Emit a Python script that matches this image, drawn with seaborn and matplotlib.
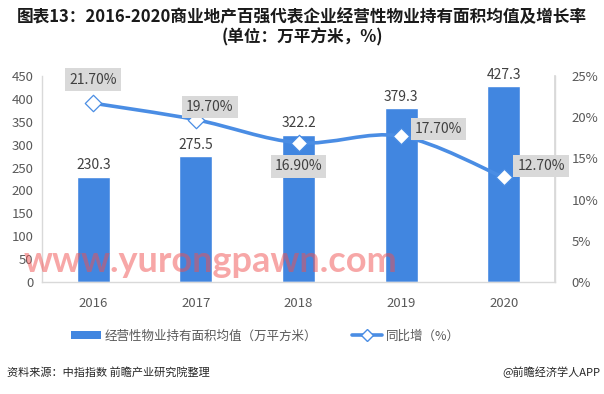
import numpy as np
import matplotlib
matplotlib.use("Agg")
import matplotlib.pyplot as plt
from matplotlib.path import Path
from matplotlib.patches import PathPatch, Patch
from matplotlib.lines import Line2D
from matplotlib.ticker import FuncFormatter
import seaborn as sns

# ---- data ----
years = ["2016", "2017", "2018", "2019", "2020"]
area = [230.3, 275.5, 322.2, 379.3, 427.3]
growth = [21.7, 19.7, 16.9, 17.7, 12.7]
growth_labels = ["21.70%", "19.70%", "16.90%", "17.70%", "12.70%"]
left_ticks = [0, 50, 100, 150, 200, 250, 300, 350, 400, 450]
right_ticks = [0, 5, 10, 15, 20, 25]
title_text = "图表13：2016-2020商业地产百强代表企业经营性物业持有面积均值及增长率\n(单位：万平方米，%)"
bar_legend = "经营性物业持有面积均值（万平方米）"
line_legend = "同比增（%）"
source_text = "资料来源：中指指数 前瞻产业研究院整理"
brand_text = "@前瞻经济学人APP"
watermark = "www.yurongpawn.com"

# ---- style ----
sns.set_theme(style="white")
plt.rcParams["font.family"] = ["Noto Sans CJK SC", "DejaVu Sans"]
BAR = "#4186e0"
LINE = "#4a8de4"
TXT = "#404040"
TICK = "#595959"

fig = plt.figure(figsize=(6.04, 3.94), dpi=100)
ax = fig.add_axes([42 / 604, 1 - 282 / 394, (555 - 42) / 604, (282 - 76) / 394])

sns.barplot(x=years, y=area, ax=ax, color=BAR, width=0.32, saturation=1)
ax.set_ylim(0, 450)
ax.set_yticks(left_ticks)
ax.set_xlim(-0.5, len(years) - 0.5)
ax.set_xlabel("")
ax.set_ylabel("")
ax.tick_params(axis="both", length=0, colors=TICK, labelsize=9.5)
ax.tick_params(axis="x", pad=11)
ax.tick_params(axis="y", pad=6)
ax.spines["top"].set_visible(False)
for s in ["left", "right", "bottom"]:
    ax.spines[s].set_color("#d9d9d9")
    ax.spines[s].set_linewidth(1)

# bar value labels
for i, v in enumerate(area):
    ax.text(i, v + 9, f"{v}", ha="center", va="bottom", fontsize=10, color=TXT)

ax2 = ax.twinx()
ax2.set_ylim(0, 25)
ax2.set_yticks(right_ticks)
ax2.yaxis.set_major_formatter(FuncFormatter(lambda v, p: f"{int(v)}%"))
ax2.tick_params(axis="y", length=0, colors=TICK, labelsize=9.5, pad=12)
for s in ["top", "left", "bottom"]:
    ax2.spines[s].set_visible(False)
ax2.spines["right"].set_color("#d9d9d9")

# smooth line (Catmull-Rom bezier through the data points)
xs = np.arange(len(years), dtype=float)
ys = np.array(growth, dtype=float)
P = np.column_stack([xs, ys])
verts = [P[0]]
codes = [Path.MOVETO]
n = len(P)
for i in range(n - 1):
    p0 = P[i - 1] if i > 0 else P[i]
    p1 = P[i]
    p2 = P[i + 1]
    p3 = P[i + 2] if i + 2 < n else P[i + 1]
    c1 = p1 + (p2 - p0) / 6.0
    c2 = p2 - (p3 - p1) / 6.0
    verts += [c1, c2, p2]
    codes += [Path.CURVE4] * 3
ax2.add_patch(PathPatch(Path(verts, codes), facecolor="none", edgecolor=LINE,
                        lw=2.6, zorder=3, capstyle="round"))
sns.scatterplot(x=xs, y=ys, ax=ax2, marker="D", s=70, color="white",
                edgecolor=LINE, linewidth=0.9, zorder=4, legend=False)

# percentage labels (offsets in points)
offsets = [(0, 17), (10, 9), (0, -17), (27, 5), (27, 8)]
for i, (lab, off) in enumerate(zip(growth_labels, offsets)):
    ax2.annotate(lab, (xs[i], ys[i]), xytext=off, textcoords="offset points",
                 ha="center", va="center", fontsize=10, color=TXT, zorder=5,
                 bbox=dict(boxstyle="square,pad=0.3", fc="#d9d9d9", ec="none"))

# title
fig.text(0.5, 1 - 27 / 394, title_text, ha="center", va="center", fontsize=12,
         fontweight="bold", color="#1a1a1a", linespacing=1.15)

# legend
handles = [Patch(facecolor=BAR, edgecolor="none"),
           Line2D([0], [0], color=LINE, lw=2.6, marker="D", markersize=6,
                  markerfacecolor="white", markeredgecolor=LINE)]
fig.legend(handles, [bar_legend, line_legend], loc="center",
           bbox_to_anchor=(265 / 604, 1 - 336 / 394), ncol=2, frameon=False,
           fontsize=9, handlelength=2.4, handleheight=0.55, handletextpad=0.3,
           columnspacing=2.8, labelcolor=TICK)

# footer
fig.text(7 / 604, 1 - 372 / 394, source_text, ha="left", va="center", fontsize=8, color="#262626")
fig.text(600 / 604, 1 - 372 / 394, brand_text, ha="right", va="center", fontsize=8, color="#262626")

# watermark
fig.text(24 / 604, 1 - 262 / 394, watermark, ha="left", va="center", fontsize=26,
         family=["Lato", "DejaVu Sans"], fontweight="bold",
         color="#f05050", alpha=0.5, zorder=10)

fig.savefig("out.png", dpi=100)
